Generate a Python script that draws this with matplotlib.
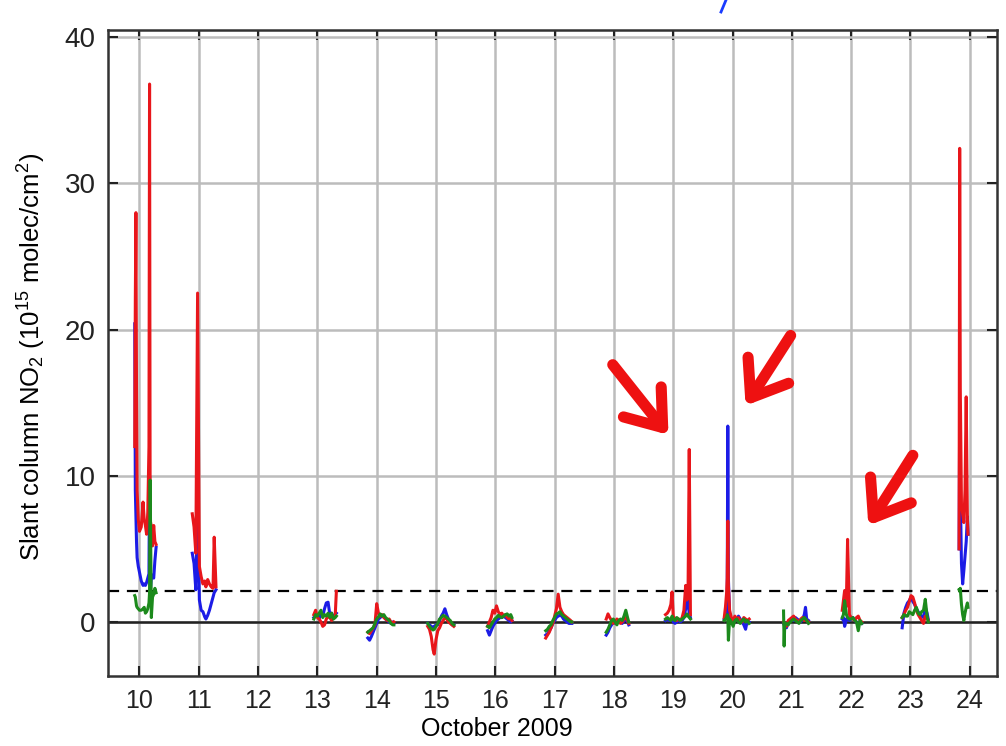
import matplotlib
matplotlib.use("Agg")
import matplotlib.pyplot as plt
import numpy as np
from matplotlib.patches import FancyArrowPatch
from matplotlib.lines import Line2D

plt.rcParams["font.family"] = ["Liberation Sans", "DejaVu Sans"]
plt.rcParams["mathtext.default"] = "regular"

# Valores (dias de outubro de 2009, NO2 em 1e15 molec/cm2)
t10 = [9.92, 9.93, 9.94, 9.95, 9.96, 9.98, 10.00, 10.03, 10.06, 10.08, 10.10,
       10.12, 10.14, 10.16, 10.17, 10.18, 10.20, 10.22, 10.24, 10.26, 10.28]
red10 = [12.0, 22.0, 28.0, 16.0, 9.0, 7.0, 6.2, 6.5, 8.2, 7.0, 6.6, 6.0, 7.5,
         12.0, 36.8, 7.0, 6.5, 5.2, 6.6, 5.5, 5.3]
blue10 = [20.4, 9.0, 7.2, 5.5, 4.4, 3.8, 3.4, 2.8, 2.5, 2.6, 2.5, 2.7, 3.0,
          3.3, 10.0, 2.0, 3.0, 3.2, 3.0, 4.2, 5.1]
green10 = [1.8, 1.7, 1.4, 1.1, 1.0, 0.9, 0.8, 0.8, 0.9, 1.0, 0.6, 0.7, 0.9,
           1.3, 2.0, 9.7, 0.3, 1.7, 1.9, 2.3, 2.0]

t11 = [10.89, 10.92, 10.95, 10.98, 11.01, 11.04, 11.07, 11.10, 11.12, 11.15,
       11.18, 11.21, 11.24, 11.26, 11.29]
red11 = [7.4, 6.5, 4.7, 22.5, 3.8, 3.1, 2.6, 2.8, 2.4, 2.9, 2.6, 2.4, 2.3, 5.8, 2.4]
blue11 = [4.7, 4.0, 2.2, 8.3, 1.5, 0.8, 0.7, 0.35, 0.2, 0.45, 0.8, 1.25, 1.7, 2.0, 2.2]
green11 = [np.nan] * 15

t13 = [12.94, 12.97, 13.0, 13.03, 13.06, 13.09, 13.12, 13.15, 13.18, 13.21,
       13.24, 13.27, 13.30, 13.32]
red13 = [0.5, 0.8, 0.3, 0.2, 0.0, -0.3, -0.2, 0.2, 0.4, 0.3, 0.1, 0.3, 0.4, 2.1]
blue13 = [0.3, 0.4, 0.5, 0.2, 0.6, 0.4, 0.9, 1.3, 1.35, 0.5, 0.6, 0.3, 0.5, 0.6]
green13 = [0.2, 0.5, 0.4, 0.6, 0.8, 0.3, 0.5, 0.4, 0.6, 0.3, 0.6, 0.2, 0.3, 0.4]

t14 = [13.85, 13.88, 13.91, 13.94, 13.97, 14.0, 14.03, 14.06, 14.09, 14.12,
       14.15, 14.18, 14.21, 14.24, 14.27, 14.29]
red14 = [-0.7, -0.8, -0.6, -0.4, -0.2, 1.25, 0.6, 0.4, 0.5, 0.3, 0.2, 0.1, 0.2,
         0.0, -0.1, 0.0]
blue14 = [-1.1, -1.25, -1.0, -0.7, -0.4, -0.1, 0.2, 0.3, 0.45, 0.4, 0.2, 0.1,
          0.0, -0.1, 0.0, -0.1]
green14 = [-0.7, -0.6, -0.5, -0.4, -0.1, 0.2, 0.35, 0.55, 0.4, 0.5, 0.3, 0.2,
           0.1, -0.1, -0.2, -0.2]

t15 = [14.86, 14.89, 14.92, 14.95, 14.97, 15.0, 15.03, 15.06, 15.09, 15.12,
       15.15, 15.18, 15.21, 15.24, 15.27, 15.30]
red15 = [-0.3, -0.5, -1.0, -1.9, -2.2, -1.2, -0.6, -0.4, -0.1, 0.1, 0.3, 0.2,
         0.0, -0.1, -0.2, -0.3]
blue15 = [-0.1, -0.2, -0.3, -0.4, -0.3, -0.2, -0.2, 0.1, 0.4, 0.6, 0.9, 0.5,
          0.2, 0.0, -0.2, -0.2]
green15 = [-0.1, -0.3, -0.45, -0.55, -0.5, -0.3, -0.1, 0.2, 0.3, 0.45, 0.4, 0.3,
           0.2, 0.1, -0.1, -0.2]

t16 = [15.87, 15.90, 15.93, 15.96, 15.99, 16.02, 16.05, 16.08, 16.11, 16.14,
       16.17, 16.20, 16.23, 16.26, 16.28]
red16 = [-0.3, 0.0, 0.3, 0.8, 0.6, 1.1, 0.7, 0.5, 0.6, 0.4, 0.5, 0.3, 0.2, 0.3, 0.1]
blue16 = [-0.6, -0.9, -0.6, -0.3, -0.1, 0.1, 0.2, 0.3, 0.3, 0.4, 0.3, 0.2, 0.1, 0.0, 0.1]
green16 = [-0.3, -0.4, -0.2, 0.0, 0.2, 0.3, 0.45, 0.35, 0.3, 0.4, 0.5, 0.55, 0.4, 0.5, 0.3]

t17 = [16.85, 16.88, 16.91, 16.94, 16.97, 17.0, 17.03, 17.06, 17.09, 17.12,
       17.15, 17.18, 17.21, 17.24, 17.27, 17.29]
red17 = [-1.1, -0.9, -0.7, -0.4, -0.1, 0.4, 0.9, 1.9, 1.0, 0.7, 0.5, 0.4, 0.3,
         0.2, 0.1, 0.0]
blue17 = [-0.9, -0.8, -0.6, -0.4, -0.1, 0.1, 0.3, 0.4, 0.45, 0.4, 0.2, 0.1, 0.0,
          -0.1, -0.1, -0.1]
green17 = [-0.6, -0.5, -0.3, -0.2, 0.1, 0.3, 0.55, 0.6, 0.7, 0.5, 0.4, 0.3, 0.2,
           0.1, 0.0, 0.0]

t18 = [17.87, 17.90, 17.93, 17.96, 17.99, 18.02, 18.05, 18.08, 18.11, 18.14,
       18.17, 18.20, 18.23, 18.25]
red18 = [0.2, 0.55, 0.3, 0.1, -0.1, 0.0, 0.2, 0.1, -0.1, 0.0, 0.2, 0.3, 0.1, -0.1]
blue18 = [-0.9, -0.7, -0.4, -0.2, 0.0, -0.1, 0.0, 0.1, 0.0, -0.1, 0.1, 0.2, 0.0, -0.2]
green18 = [-0.7, -0.5, -0.2, 0.1, 0.2, 0.0, -0.2, 0.1, 0.2, 0.1, 0.4, 0.8, 0.3, 0.0]

t19 = [18.87, 18.90, 18.93, 18.96, 18.98, 19.0, 19.03, 19.06, 19.09, 19.12,
       19.15, 19.18, 19.21, 19.23, 19.25, 19.27, 19.29]
red19 = [0.5, 0.6, 0.8, 1.2, 2.05, 0.4, 0.2, 0.1, 0.2, 0.1, 0.3, 0.8, 2.5, 1.5,
         2.2, 11.8, 0.5]
blue19 = [0.1, 0.2, 0.1, 0.2, 0.3, 0.0, -0.1, 0.0, 0.1, 0.0, 0.1, 0.3, 0.9, 1.7,
          1.2, 0.6, 0.3]
green19 = [0.2, 0.3, 0.2, 0.1, 0.4, 0.2, 0.1, 0.3, 0.2, 0.1, 0.2, 0.3, 0.4, 0.55,
           0.4, 0.3, 0.2]

t20 = [19.86, 19.88, 19.90, 19.91, 19.92, 19.93, 19.95, 19.98, 20.01, 20.04,
       20.07, 20.10, 20.13, 20.16, 20.19, 20.22, 20.25, 20.28]
red20 = [0.3, 1.0, 2.0, 3.0, 6.9, 2.5, 0.8, 0.3, 0.1, 0.4, 0.2, 0.3, 0.1, 0.0,
         0.3, 0.2, 0.1, 0.2]
blue20 = [0.2, 0.3, 0.5, 1.5, 13.4, 3.0, 0.5, 0.1, 0.0, 0.2, 0.1, 0.4, 0.2, 0.0,
          -0.2, -0.5, 0.1, 0.0]
green20 = [0.1, 0.2, 0.3, 0.5, 0.4, -1.25, 0.2, 0.0, -0.3, 0.1, 0.2, 0.0, -0.1,
           0.1, 0.2, 0.0, 0.1, -0.1]

t21 = [20.86, 20.87, 20.88, 20.91, 20.94, 20.97, 21.0, 21.03, 21.06, 21.09,
       21.12, 21.15, 21.18, 21.21, 21.23, 21.25, 21.28]
red21 = [0.0, -0.1, -0.2, -0.3, 0.1, 0.2, 0.3, 0.4, 0.2, 0.1, 0.0, 0.2, 0.3, 0.1,
         0.2, 0.1, 0.0]
blue21 = [-0.1, -0.2, -0.3, -0.4, 0.0, 0.1, 0.2, 0.1, 0.3, 0.2, 0.1, 0.0, 0.2,
          0.5, 1.0, 0.2, 0.1]
green21 = [0.75, -1.65, -0.2, -0.1, -0.2, 0.0, 0.1, 0.2, 0.1, 0.0, -0.1, 0.1, 0.2,
           0.3, 0.2, 0.1, -0.1]

t22 = [21.85, 21.87, 21.89, 21.91, 21.92, 21.94, 21.97, 22.0, 22.03, 22.06,
       22.09, 22.12, 22.15, 22.18]
red22 = [0.8, 1.45, 2.15, 1.0, 1.5, 5.65, 0.5, 0.3, 0.2, 0.1, 0.3, 0.4, 0.1, 0.0]
blue22 = [0.2, 0.3, -0.3, 0.0, 0.2, 0.3, 0.1, 0.2, 0.3, 0.1, 0.0, -0.1, 0.0, -0.1]
green22 = [0.3, 0.5, 1.45, 0.8, 0.5, 0.3, 0.2, 0.2, 0.3, 0.1, 0.0, -0.6, 0.1, -0.1]

t23 = [22.86, 22.89, 22.92, 22.95, 22.98, 23.01, 23.04, 23.07, 23.10, 23.13,
       23.16, 23.19, 23.22, 23.25, 23.28, 23.30]
red23 = [0.3, 0.5, 0.8, 1.0, 1.4, 1.8, 1.7, 1.3, 0.8, 0.5, 0.3, 0.1, -0.1, 0.4,
         0.3, 0.1]
blue23 = [-0.4, 0.6, 1.0, 1.3, 1.45, 1.7, 1.4, 1.2, 0.9, 0.7, 0.5, 0.4, 0.3, 1.0,
          0.6, 0.2]
green23 = [0.3, 0.5, 0.4, 0.4, 0.7, 0.6, 0.5, 0.8, 1.0, 0.6, 0.5, 0.7, 0.8, 1.55,
           0.4, 0.0]

t24 = [23.82, 23.83, 23.84, 23.86, 23.88, 23.90, 23.92, 23.94, 23.96, 23.97]
red24 = [5.0, 32.4, 16.0, 8.0, 7.4, 6.8, 9.0, 15.4, 7.0, 6.0]
blue24 = [5.0, 14.4, 9.0, 4.0, 2.6, 3.5, 4.5, 5.5, 7.2, 6.0]
green24 = [2.2, 2.1, 2.3, 1.2, 0.5, 0.1, 0.6, 1.0, 1.3, 1.0]

dias = [10, 11, 12, 13, 14, 15, 16, 17, 18, 19, 20, 21, 22, 23, 24]
limiar = 2.1

# setas vermelhas (cauda, ponta)
setas = [((17.98, 17.6), (18.92, 12.8)),
         ((20.98, 19.6), (20.22, 14.8)),
         ((23.04, 11.4), (22.29, 6.6))]


def junta(*blocos):
    # junta os dias com NaN entre eles para quebrar a linha
    out = []
    for b in blocos:
        out += list(b) + [np.nan]
    return np.array(out, dtype=float)


tempo = junta(t10, t11, t13, t14, t15, t16, t17, t18, t19, t20, t21, t22, t23, t24)
vermelho = junta(red10, red11, red13, red14, red15, red16, red17, red18, red19,
                 red20, red21, red22, red23, red24)
azul = junta(blue10, blue11, blue13, blue14, blue15, blue16, blue17, blue18,
             blue19, blue20, blue21, blue22, blue23, blue24)
verde = junta(green10, green11, green13, green14, green15, green16, green17,
              green18, green19, green20, green21, green22, green23, green24)

fig = plt.figure(figsize=(10.06, 7.46), dpi=100)
ax = fig.add_axes([0.1074, 0.0938, 0.8837, 0.866])

ax.plot(tempo, azul, color="#1c1ce6", lw=2.2, zorder=3)
ax.plot(tempo, vermelho, color="#e8161b", lw=2.2, zorder=4)
ax.plot(tempo, verde, color="#1c8a1c", lw=2.2, zorder=5)

ax.axhline(0, color="#222222", lw=1.8, zorder=2)
ax.axhline(limiar, color="black", lw=1.6, ls=(0, (5, 3.5)), zorder=2)

for (cauda, ponta) in setas:
    seta = FancyArrowPatch(cauda, ponta, arrowstyle="->,head_length=0.38,head_width=0.28",
                           mutation_scale=62, lw=8, color="#ee1111",
                           capstyle="round", joinstyle="round",
                           shrinkA=0, shrinkB=0, zorder=6)
    ax.add_patch(seta)

ax.set_xlim(9.47, 24.46)
ax.set_ylim(-3.7, 40.5)
ax.set_xticks(dias)
ax.set_yticks([0, 10, 20, 30, 40])
ax.grid(True, color="#bcbcbc", lw=1.8, zorder=0)
ax.set_axisbelow(True)
ax.tick_params(direction="in", length=7, width=1.5, top=True, right=True,
               pad=9, colors="#222222")
ax.tick_params(axis="x", labelsize=18)
ax.tick_params(axis="y", labelsize=20)
for s in ax.spines.values():
    s.set_linewidth(1.8)
    s.set_color("#333333")

ax.set_xlabel("October 2009", fontsize=18)
ax.xaxis.set_label_coords(0.4376, -0.064)
ax.set_ylabel(r"Slant column NO$_2$ (10$^{15}$ molec/cm$^2$)", fontsize=18.5)
ax.yaxis.set_label_coords(-0.067, 0.494)

# pedaço de texto azul cortado no topo
fig.add_artist(Line2D([726 / 1006, 721 / 1006], [1.0, 1 - 12 / 746],
                      color="#1a3cff", lw=2))

fig.savefig("out.png", dpi=100)
